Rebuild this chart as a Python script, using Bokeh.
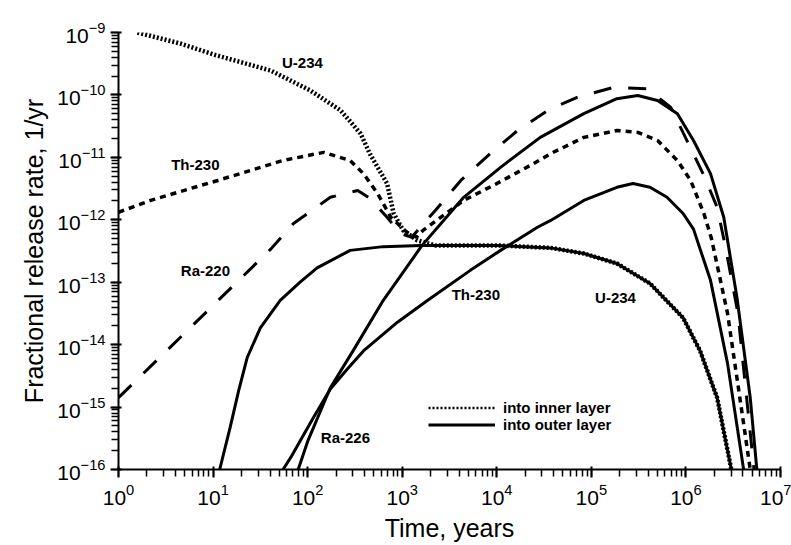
from bokeh.plotting import figure
from bokeh.models import Label, Legend, LegendItem
from bokeh.embed import file_html
from bokeh.resources import INLINE

# ---- data (log10 time in years, log10 fractional release rate 1/yr) ----
u234_inner_logt = [0.2, 0.66, 1.0, 1.61, 2.03, 2.24, 2.35, 2.56, 2.66, 2.84, 2.91, 3.01, 3.16, 3.35,
                   3.5, 4.0, 4.57, 4.92, 5.27, 5.62, 5.97, 6.15, 6.33, 6.48]
u234_inner_logr = [-9.0, -9.18, -9.35, -9.61, -9.93, -10.14, -10.25, -10.62, -10.95, -11.42, -11.90, -12.17, -12.33, -12.41,
                   -12.41, -12.41, -12.45, -12.54, -12.70, -13.02, -13.57, -14.10, -14.85, -16.0]

u234_outer_logt = [1.07, 1.18, 1.27, 1.36, 1.50, 1.71, 1.92, 2.10, 2.45, 2.80, 3.2,
                   3.5, 4.0, 4.57, 4.92, 5.27, 5.62, 5.97, 6.15, 6.33, 6.48]
u234_outer_logr = [-16.0, -15.33, -14.74, -14.21, -13.73, -13.29, -13.0, -12.77, -12.49, -12.43, -12.41,
                   -12.41, -12.41, -12.45, -12.54, -12.70, -13.02, -13.57, -14.10, -14.85, -16.0]

th230_inner_logt = [0.0, 0.34, 0.87, 1.05, 1.74, 2.17, 2.45, 2.59, 2.74, 2.88, 3.05, 3.15, 3.22, 3.65,
                    4.0, 4.39, 4.57, 4.92, 5.27, 5.49, 5.70, 5.91, 6.05, 6.19, 6.27, 6.44, 6.57, 6.68]
th230_inner_logr = [-11.88, -11.69, -11.45, -11.37, -11.05, -10.92, -11.05, -11.26, -11.58, -11.96, -12.2, -12.28, -12.17, -11.69,
                    -11.42, -11.10, -10.94, -10.68, -10.57, -10.60, -10.73, -11.05, -11.37, -11.90, -12.3, -13.50, -14.85, -16.0]

th230_outer_logt = [1.74, 1.82, 2.06, 2.24, 2.42, 2.59, 2.95, 3.27, 3.72, 4.04, 4.43, 4.57, 4.92, 5.27, 5.44, 5.62, 5.80, 5.97,
                    6.08, 6.26, 6.44, 6.61]
th230_outer_logr = [-16.0, -15.81, -15.17, -14.71, -14.39, -14.10, -13.64, -13.29, -12.81, -12.49, -12.12, -12.01, -11.69, -11.48, -11.42, -11.48, -11.64, -11.90,
                    -12.15, -12.97, -14.30, -16.0]

ra226_inner_logt = [0.0, 1.61, 1.85, 2.24, 2.53, 2.66, 2.84, 2.98, 3.1, 3.35, 3.62, 3.93, 4.22, 4.57,
                    4.85, 5.23, 5.59, 5.84, 6.19, 6.33, 6.42, 6.55, 6.72]
ra226_inner_logr = [-14.85, -12.47, -12.06, -11.64, -11.53, -11.66, -11.96, -12.22, -12.28, -11.85, -11.37, -10.94, -10.57, -10.22,
                    -10.04, -9.88, -9.90, -10.20, -11.29, -11.80, -12.45, -13.5, -16.0]

ra226_outer_logt = [1.90, 2.00, 2.24, 2.48, 2.80, 3.21, 3.65, 4.04, 4.46, 4.92, 5.27, 5.49, 5.70, 5.91, 6.08,
                    6.26, 6.40, 6.54, 6.68, 6.75]
ra226_outer_logr = [-16.0, -15.55, -14.69, -14.10, -13.29, -12.41, -11.64, -11.16, -10.68, -10.30, -10.06, -10.01, -10.09, -10.30, -10.73,
                    -11.26, -11.96, -13.25, -14.85, -16.0]

legend_labels = ["into inner layer", "into outer layer"]


def pw(v):
    return [10.0 ** a for a in v]


p = figure(width=791, height=545, x_axis_type="log", y_axis_type="log",
           x_range=(1, 1e7), y_range=(1e-16, 1e-9),
           output_backend="svg", toolbar_location=None,
           min_border_left=118, min_border_right=11, min_border_top=32, min_border_bottom=76)
p.outline_line_color = None
p.xgrid.visible = False
p.ygrid.visible = False
p.background_fill_color = "white"
p.border_fill_color = "white"

FONT = "Liberation Sans"
for ax in (p.xaxis[0], p.yaxis[0]):
    ax.axis_line_width = 2
    ax.axis_line_color = "black"
    ax.major_tick_line_width = 2
    ax.minor_tick_line_width = 1.5
    ax.major_tick_in = 3
    ax.major_tick_out = 8
    ax.minor_tick_in = 0
    ax.minor_tick_out = 7
    ax.major_label_text_font = FONT
    ax.major_label_text_font_size = "21px"
    ax.major_label_text_color = "black"
    ax.axis_label_text_font = FONT
    ax.axis_label_text_font_size = "25px"
    ax.axis_label_text_font_style = "normal"
    ax.axis_label_text_color = "black"

p.xaxis.axis_label = "Time, years"
p.yaxis.axis_label = "Fractional release rate, 1/yr"
p.xaxis.major_label_standoff = 6
p.yaxis.major_label_standoff = 5
p.xaxis.axis_label_standoff = 6
p.yaxis.axis_label_standoff = 6

# curves
p.line(pw(u234_inner_logt), pw(u234_inner_logr), line_color="black", line_width=4.5, line_dash="2 2")
p.line(pw(u234_outer_logt), pw(u234_outer_logr), line_color="black", line_width=3)
p.line(pw(th230_inner_logt), pw(th230_inner_logr), line_color="black", line_width=3.5, line_dash="6 5")
p.line(pw(th230_outer_logt), pw(th230_outer_logr), line_color="black", line_width=3)
p.line(pw(ra226_inner_logt), pw(ra226_inner_logr), line_color="black", line_width=3, line_dash="18 17")
p.line(pw(ra226_outer_logt), pw(ra226_outer_logr), line_color="black", line_width=3)

# curve labels
labels = [
    ("U-234", 88, 3.3e-10),
    ("Th-230", 6.5, 7.7e-12),
    ("Ra-220", 8.3, 1.55e-13),
    ("Th-230", 6000, 6.3e-14),
    ("U-234", 1.8e5, 5.6e-14),
    ("Ra-226", 251, 3.2e-16),
]
for txt, lx, ly in labels:
    p.add_layout(Label(x=lx, y=ly, text=txt, text_font=FONT, text_font_size="15px",
                       text_font_style="bold", text_align="center", text_baseline="middle",
                       text_color="black"))

# legend with dedicated renderers that draw nothing in the plot area
nan = float("nan")
r_in = p.line(x=[nan], y=[nan], line_color="black", line_width=2.5, line_dash="2 2")
r_out = p.line(x=[nan], y=[nan], line_color="black", line_width=3)
legend = Legend(items=[LegendItem(label=legend_labels[0], renderers=[r_in]),
                       LegendItem(label=legend_labels[1], renderers=[r_out])],
                location=(310, 36), padding=0, margin=0, spacing=0,
                glyph_width=67, glyph_height=15, label_height=15, label_standoff=8,
                label_text_font=FONT, label_text_font_size="15px", label_text_font_style="bold",
                label_text_color="black",
                border_line_color=None, background_fill_alpha=0)
p.add_layout(legend)

open("out.html", "w").write(file_html(p, INLINE))
